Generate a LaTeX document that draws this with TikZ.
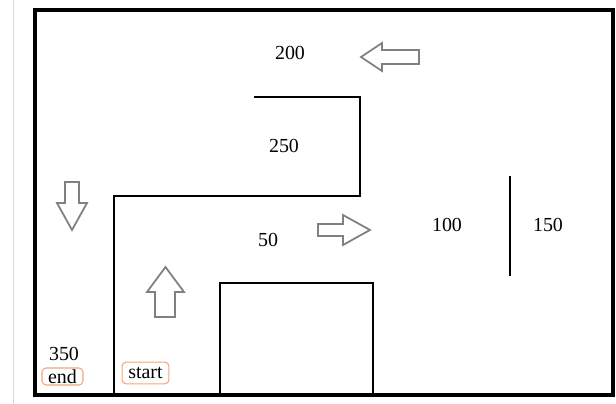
\documentclass[tikz,border=0pt]{standalone}
\usepackage{fontspec}
\setmainfont{Liberation Serif}
\definecolor{tagorange}{RGB}{244,164,120}

\begin{document}
\begin{tikzpicture}[x=0.03cm,y=-0.03cm,
    wall/.style={line width=2.4pt, line join=miter},
    block/.style={draw=gray, line width=1.5pt, fill=white, line join=miter},
    tag/.style={draw=tagorange, line width=0.9pt, rounded corners=3.5pt,
                inner sep=0pt}]
      \useasboundingbox (0,0) rectangle (616,404);
      \draw[gray!30, thin] (13,0) -- (13,404);
      % outer frame
      \draw[line width=2.8pt] (35,10) rectangle (613,395);
      % walls
      \draw[wall] (254,97) -- (360,97) -- (360,196) -- (114,196) -- (114,395);
      \draw[wall] (510,176) -- (510,276);
      \draw[wall] (220,395) -- (220,283) -- (373,283) -- (373,395);
      % block arrows
      \draw[block] (361,57) -- (382,43) -- (382,50) -- (419,50) -- (419,64)
                   -- (382,64) -- (382,71) -- cycle;
      \draw[block] (370,230) -- (343,215) -- (343,224) -- (318,224) -- (318,236)
                   -- (343,236) -- (343,245) -- cycle;
      \draw[block] (72,230) -- (57,203) -- (65,203) -- (65,182) -- (79,182)
                   -- (79,203) -- (87,203) -- cycle;
      \draw[block] (165.5,267) -- (147,292) -- (155,292) -- (155,317) -- (175,317)
                   -- (175,292) -- (184,292) -- cycle;
      % labels
      \begin{scope}[every node/.style={font=\fontsize{17}{20}\selectfont}]
      \node (d200) at (290,53) {200};
      \node (d250) at (284,146) {250};
      \node (d50) at (268,240) {50};
      \node (d100) at (447,225) {100};
      \node (d150) at (548,225) {150};
      \node (d350) at (64,354) {350};
      \node[tag, minimum width=35pt, minimum height=14.5pt] (end) at (62.5,376.5) {end};
      \node[tag, minimum width=40pt, minimum height=18.5pt] (start) at (145.5,373) {start};
      \end{scope}
  \end{tikzpicture}
\end{document}
